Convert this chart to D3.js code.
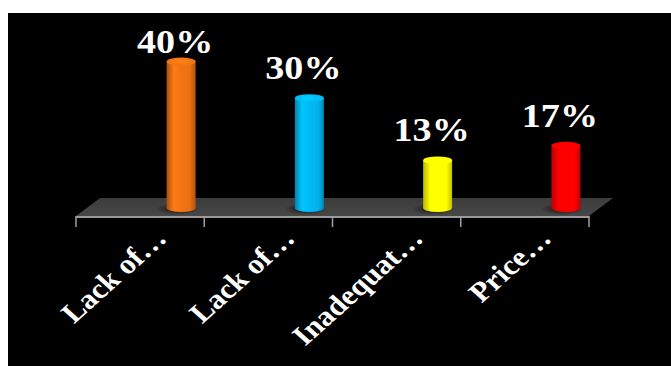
<!DOCTYPE html>
<html>
<head>
<meta charset="utf-8">
<script src="https://cdn.jsdelivr.net/npm/d3@7/dist/d3.min.js"></script>
<style>
html,body{margin:0;padding:0;background:#fff;}
svg{display:block;}
</style>
</head>
<body>
<svg id="chart" width="671" height="366"></svg>
<script>
const categories = ["Lack of\u2026", "Lack of\u2026", "Inadequat\u2026", "Price\u2026"];
const values = [40, 30, 13, 17];
const valueLabels = ["40%", "30%", "13%", "17%"];
const colors = ["#ec7012", "#00b4ee", "#ffff00", "#ff0000"];

const svg = d3.select("#chart");
svg.append("rect").attr("x", 8).attr("y", 13).attr("width", 663).attr("height", 353).attr("fill", "#000");

const x = d3.scaleBand().domain(d3.range(categories.length)).range([76, 589]).padding(0);
const y = d3.scaleLinear().domain([0, 40]).range([208, 61.5]);

const depthDx = 41;   // bar offset into the floor depth
const floorFrontY = 216, floorBackY = 198, floorSkew = 24;
const barW = 29, ry = 4;
const stretch = 1.12;

const defs = svg.append("defs");
const floorGrad = defs.append("linearGradient").attr("id", "floorGrad").attr("x1", 0).attr("y1", 0).attr("x2", 0).attr("y2", 1);
floorGrad.append("stop").attr("offset", "0%").attr("stop-color", "#3c3c3c");
floorGrad.append("stop").attr("offset", "100%").attr("stop-color", "#474747");

colors.forEach((c, i) => {
  const base = d3.color(c);
  const g = defs.append("linearGradient").attr("id", "cyl" + i).attr("x1", 0).attr("x2", 1).attr("y1", 0).attr("y2", 0);
  g.append("stop").attr("offset", "0%").attr("stop-color", base.darker(0.9));
  g.append("stop").attr("offset", "25%").attr("stop-color", base.brighter(0.25));
  g.append("stop").attr("offset", "45%").attr("stop-color", base.brighter(0.1));
  g.append("stop").attr("offset", "80%").attr("stop-color", base);
  g.append("stop").attr("offset", "100%").attr("stop-color", base.darker(0.8));
  const t = defs.append("radialGradient").attr("id", "cap" + i).attr("cx", "45%").attr("cy", "50%").attr("r", "60%");
  t.append("stop").attr("offset", "0%").attr("stop-color", base.brighter(0.4));
  t.append("stop").attr("offset", "100%").attr("stop-color", base.brighter(0.05));
});

const shadow = defs.append("radialGradient").attr("id", "shadow");
shadow.append("stop").attr("offset", "0%").attr("stop-color", "#000").attr("stop-opacity", 0.7);
shadow.append("stop").attr("offset", "100%").attr("stop-color", "#000").attr("stop-opacity", 0);

// floor
const x0 = x.range()[0], x1 = x.range()[1];
svg.append("path")
  .attr("d", `M${x0},${floorFrontY} L${x1},${floorFrontY} L${x1 + floorSkew},${floorBackY} L${x0 + floorSkew},${floorBackY} Z`)
  .attr("fill", "url(#floorGrad)");
svg.append("line").attr("x1", x0).attr("x2", x1).attr("y1", floorFrontY + 1).attr("y2", floorFrontY + 1)
  .attr("stroke", "#9a9a9a").attr("stroke-width", 2);

// ticks
const tickPos = d3.range(categories.length + 1).map(i => i < categories.length ? x(i) : x1);
svg.selectAll(".tick").data(tickPos).enter().append("line")
  .attr("x1", d => d).attr("x2", d => d).attr("y1", floorFrontY).attr("y2", floorFrontY + 11)
  .attr("stroke", "#a0a0a0").attr("stroke-width", 1.5);

// bars
const bars = svg.selectAll(".bar").data(values).enter().append("g");
const cx = i => x(i) + x.bandwidth() / 2 + depthDx;
bars.append("ellipse").attr("cx", (d, i) => cx(i) - 4).attr("cy", y(0) + 1).attr("rx", barW * 0.75).attr("ry", 6).attr("fill", "url(#shadow)");
bars.append("ellipse").attr("cx", (d, i) => cx(i)).attr("cy", y(0)).attr("rx", barW / 2).attr("ry", ry).attr("fill", (d, i) => `url(#cyl${i})`);
bars.append("rect").attr("x", (d, i) => cx(i) - barW / 2).attr("y", d => y(d)).attr("width", barW).attr("height", d => y(0) - y(d))
  .attr("fill", (d, i) => `url(#cyl${i})`);
bars.append("ellipse").attr("cx", (d, i) => cx(i)).attr("cy", d => y(d)).attr("rx", barW / 2).attr("ry", ry).attr("fill", (d, i) => `url(#cap${i})`);

// value labels
svg.selectAll(".val").data(values).enter().append("text")
  .attr("transform", (d, i) => `translate(${cx(i) - 6},${Math.max(y(d) - ry - 15, 53)}) scale(${stretch},1)`)
  .attr("text-anchor", "middle")
  .attr("font-family", "'Liberation Serif', 'Times New Roman', serif")
  .attr("font-weight", "bold")
  .attr("font-size", 34)
  .attr("fill", "#fff")
  .style("text-shadow", "1px 1px 2px rgba(0,0,0,0.6)")
  .text((d, i) => valueLabels[i]);

// category labels
svg.selectAll(".cat").data(categories).enter().append("text")
  .attr("transform", (d, i) => `translate(${x(i) + x.bandwidth() / 2 + 28},${240}) scale(${stretch},1) rotate(-45)`)
  .attr("text-anchor", "end")
  .attr("font-family", "'Liberation Serif', 'Times New Roman', serif")
  .attr("font-weight", "bold")
  .attr("font-size", 28)
  .attr("fill", "#fff")
  .text(d => d);
</script>
</body>
</html>
